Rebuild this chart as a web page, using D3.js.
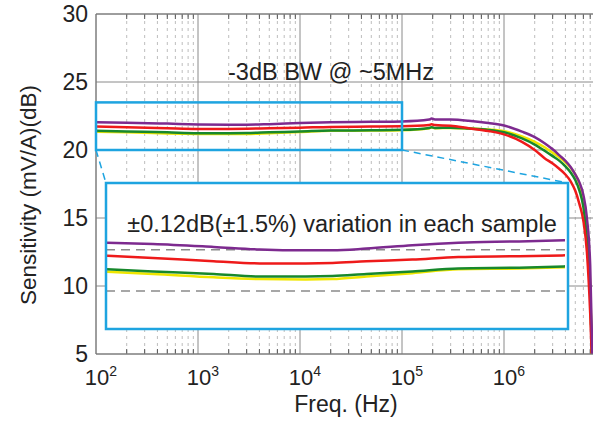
<!DOCTYPE html>
<html>
<head>
<meta charset="utf-8">
<script src="https://cdn.jsdelivr.net/npm/d3@7.9.0/dist/d3.min.js"></script>
<style>
  body { margin: 0; background: #fff; }
  text { font-family: "Liberation Sans", Arial, sans-serif; fill: #222; }
</style>
</head>
<body>
<svg id="chart" width="593" height="426"></svg>
<script>
// frequency points (Hz) shared by every sample
const freqs = [100, 200, 500, 1000, 2000, 3000, 5000, 1e4, 2e4, 5e4, 1e5, 1.85e5, 1.95e5, 2.1e5,
  3e5, 4.5e5, 7e5, 1e6, 1.5e6, 2e6, 2.5e6, 3e6, 3.5e6, 4e6, 4.5e6, 5e6, 5.5e6, 6e6, 6.5e6, 7e6, 7.4e6];

// sensitivity in dB for each sample
const purple = [22.04, 22.01, 21.94, 21.88, 21.86, 21.86, 21.9, 21.98, 22.04, 22.07, 22.1, 22.24, 22.31, 22.25,
  22.24, 22.15, 21.98, 21.8, 21.35, 20.95, 20.5, 20.05, 19.6, 19.2, 18.75, 18.2, 17.6, 16.7, 15.0, 11.5, 4];
const red = [21.73, 21.68, 21.6, 21.55, 21.55, 21.56, 21.6, 21.64, 21.7, 21.72, 21.74, 21.83, 21.89, 21.83,
  21.79, 21.6, 21.4, 21.15, 20.6, 20.0, 19.4, 19.0, 18.6, 18.2, 17.7, 17.0, 16.0, 14.8, 12.5, 8.0, 3];
const green = [21.41, 21.36, 21.3, 21.24, 21.24, 21.25, 21.3, 21.36, 21.43, 21.45, 21.48, 21.62, 21.68, 21.62,
  21.64, 21.58, 21.48, 21.3, 20.85, 20.4, 19.95, 19.55, 19.2, 18.8, 18.35, 17.8, 17.0, 15.8, 13.5, 9.5, 3];
const yellow = [21.35, 21.3, 21.22, 21.18, 21.17, 21.18, 21.24, 21.32, 21.41, 21.43, 21.46, 21.6, 21.66, 21.6,
  21.62, 21.58, 21.5, 21.38, 21.0, 20.6, 20.2, 19.8, 19.45, 19.1, 18.7, 18.2, 17.5, 16.3, 14.2, 10, 3];

const yTicks = [5, 10, 15, 20, 25, 30];
const xTickExps = [2, 3, 4, 5, 6];
const refLines = [21.87, 20.9]; // grey dashed lines inside the zoom
const zoomBox = { f0: 1e2, f1: 1e5, db0: 20, db1: 23.45 };

const series = [
  { name: 'yellow', color: '#efe600', values: yellow },
  { name: 'green', color: '#17882c', values: green },
  { name: 'red', color: '#ee1a1a', values: red },
  { name: 'purple', color: '#7d2a8f', values: purple }
];

const svg = d3.select('#chart');
const W = 593, H = 426;
const pLeft = 96, pTop = 14, pBottom = 354;

const x = d3.scaleLog().domain([1e2, 1e7]).range([pLeft, pLeft + 5 * 102]);
const y = d3.scaleLinear().domain([5, 30]).range([pBottom, pTop]);

svg.append('clipPath').attr('id', 'plot')
  .append('rect').attr('x', pLeft).attr('y', pTop).attr('width', W - pLeft).attr('height', pBottom - pTop);

const grid = svg.append('g');

// minor vertical grid
const minor = x.ticks().filter(f => Math.abs(Math.log10(f) % 1) > 1e-6 && x(f) < W);
grid.selectAll('.minor').data(minor).join('line')
  .attr('x1', d => x(d)).attr('x2', d => x(d))
  .attr('y1', pTop).attr('y2', pBottom)
  .attr('stroke', '#bdbdbd').attr('stroke-dasharray', '3,4');

// small ticks on top and bottom for minor positions
[pTop, pBottom].forEach((yy, i) => {
  grid.selectAll('.mt' + i).data(minor).join('line')
    .attr('x1', d => x(d)).attr('x2', d => x(d))
    .attr('y1', yy).attr('y2', i ? yy - 5 : yy + 5)
    .attr('stroke', '#555');
});

// major grid
const majors = xTickExps.map(e => Math.pow(10, e));
grid.selectAll('.major').data(majors).join('line')
  .attr('x1', d => x(d)).attr('x2', d => x(d))
  .attr('y1', pTop).attr('y2', pBottom)
  .attr('stroke', '#8a8a8a');
grid.selectAll('.hmajor').data(yTicks).join('line')
  .attr('x1', pLeft).attr('x2', W)
  .attr('y1', d => y(d)).attr('y2', d => y(d))
  .attr('stroke', '#8a8a8a');

// frame
svg.append('line').attr('x1', pLeft).attr('x2', pLeft).attr('y1', pTop).attr('y2', pBottom).attr('stroke', '#777');

// y tick labels
svg.selectAll('.yl').data(yTicks).join('text')
  .attr('x', pLeft - 8).attr('y', d => y(d) + 8)
  .attr('text-anchor', 'end').attr('font-size', 23)
  .text(d => d);

// x tick labels 10^n
const xl = svg.selectAll('.xl').data(xTickExps).join('text')
  .attr('x', d => x(Math.pow(10, d)) + 5).attr('y', 385)
  .attr('text-anchor', 'middle').attr('font-size', 22);
xl.append('tspan').text('10');
xl.append('tspan').attr('font-size', 14).attr('dy', -9).text(d => d);

// axis titles
svg.append('text').attr('x', 346).attr('y', 412).attr('text-anchor', 'middle')
  .attr('font-size', 23).text('Freq. (Hz)');
svg.append('text').attr('transform', 'translate(36,195) rotate(-90)')
  .attr('text-anchor', 'middle').attr('font-size', 22.5).text('Sensitivity (mV/A)(dB)');

svg.append('text').attr('x', 331).attr('y', 80).attr('text-anchor', 'middle')
  .attr('font-size', 23.5).text('-3dB BW @ ~5MHz');

// curves
const line = d3.line().x(d => x(d[0])).y(d => y(d[1])).curve(d3.curveMonotoneX);
const curves = svg.append('g').attr('clip-path', 'url(#plot)');
series.forEach(s => {
  curves.append('path').datum(freqs.map((f, i) => [f, s.values[i]]))
    .attr('d', line).attr('fill', 'none').attr('stroke', s.color).attr('stroke-width', 2.5);
});

// zoom box and connectors
const blue = '#1ea4e0';
const bx0 = x(zoomBox.f0), bx1 = x(zoomBox.f1), by0 = y(23.5), by1 = y(zoomBox.db0);
svg.append('rect').attr('x', bx0).attr('y', by0).attr('width', bx1 - bx0).attr('height', by1 - by0)
  .attr('fill', 'none').attr('stroke', blue).attr('stroke-width', 2.5);

const ix0 = 106, ix1 = 568, iy0 = 183, iy1 = 329;
svg.append('line').attr('x1', bx0).attr('y1', by1).attr('x2', ix0).attr('y2', iy0)
  .attr('stroke', blue).attr('stroke-width', 1.5).attr('stroke-dasharray', '7,5');
svg.append('line').attr('x1', bx1).attr('y1', by1).attr('x2', ix1).attr('y2', iy0)
  .attr('stroke', blue).attr('stroke-width', 1.5).attr('stroke-dasharray', '7,5');

// inset
const ix = d3.scaleLog().domain([zoomBox.f0, zoomBox.f1]).range([ix0 + 1, ix1 - 3]);
const iy = d3.scaleLinear().domain([zoomBox.db0, zoomBox.db1]).range([iy1, iy0]);
const inset = svg.append('g');
inset.append('rect').attr('x', ix0).attr('y', iy0).attr('width', ix1 - ix0).attr('height', iy1 - iy0)
  .attr('fill', '#fff');
inset.selectAll('.ref').data(refLines).join('line')
  .attr('x1', ix0).attr('x2', ix1).attr('y1', d => iy(d)).attr('y2', d => iy(d))
  .attr('stroke', '#8a8a8a').attr('stroke-width', 1.5).attr('stroke-dasharray', '9,6');
const iline = d3.line().x(d => ix(d[0])).y(d => iy(d[1])).curve(d3.curveMonotoneX);
series.forEach(s => {
  const pts = freqs.map((f, i) => [f, s.values[i]]).filter(d => d[0] <= zoomBox.f1);
  inset.append('path').datum(pts).attr('d', iline)
    .attr('fill', 'none').attr('stroke', s.color).attr('stroke-width', 2.5);
});
inset.append('text').attr('x', 342).attr('y', 232).attr('text-anchor', 'middle')
  .attr('font-size', 23.5).text('±0.12dB(±1.5%) variation in each sample');
inset.append('rect').attr('x', ix0).attr('y', iy0).attr('width', ix1 - ix0).attr('height', iy1 - iy0)
  .attr('fill', 'none').attr('stroke', blue).attr('stroke-width', 2.5);

// top and bottom border
svg.append('line').attr('x1', pLeft).attr('x2', W).attr('y1', pTop).attr('y2', pTop).attr('stroke', '#777');
svg.append('line').attr('x1', pLeft).attr('x2', W).attr('y1', pBottom).attr('y2', pBottom).attr('stroke', '#777');
</script>
</body>
</html>
